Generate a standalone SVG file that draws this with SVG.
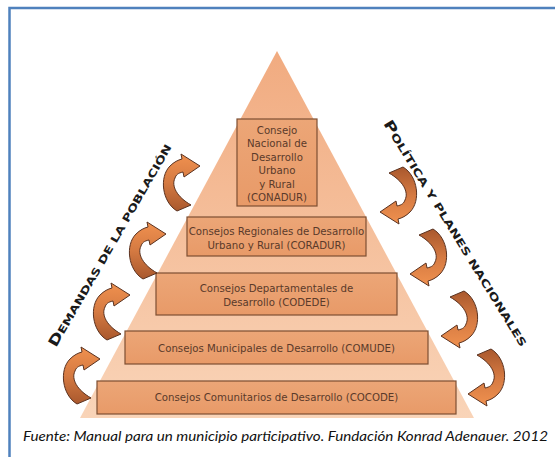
<svg xmlns="http://www.w3.org/2000/svg" xmlns:xlink="http://www.w3.org/1999/xlink" width="555" height="457" viewBox="0 0 555 457">
<style>
.box{fill:url(#boxg);stroke:#7d4f33;stroke-width:1.2}
.bt{font-family:"DejaVu Sans",Verdana,sans-serif;font-size:10.2px;fill:#5a3a2a;text-anchor:middle}
.ttl{font-family:"DejaVu Sans",sans-serif;font-weight:bold;fill:#1a1a1a}
.arr{fill:url(#arrg);stroke:#5a3220;stroke-width:1}
.foot{font-family:Lato,"Open Sans",sans-serif;font-style:italic;font-size:14px;fill:#111}
</style>
<defs>
<linearGradient id="pyr" x1="0" y1="0" x2="0" y2="1">
<stop offset="0" stop-color="#f1ab80"/>
<stop offset="1" stop-color="#f9d4b8"/>
</linearGradient>
<linearGradient id="boxg" x1="0" y1="0" x2="0" y2="1">
<stop offset="0" stop-color="#eca677"/>
<stop offset="1" stop-color="#e89a68"/>
</linearGradient>
<linearGradient id="arrg" x1="0" y1="1" x2="0" y2="0">
<stop offset="0" stop-color="#a9582d"/>
<stop offset="0.5" stop-color="#d57a42"/>
<stop offset="1" stop-color="#f0914f"/>
</linearGradient>
<path id="arr" class="arr" d="M17,56 C2,47 -1,22 10,11 C14,7 18,5 22,4 L21,-1 L40,11 L24,22 L23,17 C18,18 16,20 15,23 C11,31 17,42 31,50 Z"/>
</defs>
<rect width="555" height="457" fill="#ffffff"/>
<path d="M9.5,457 V8 H555" fill="none" stroke="#4f81bd" stroke-width="2.5"/>
<polygon id="pyramid" points="277,51 80,418 474,418" fill="url(#pyr)"/>
<g id="conadur">
<rect class="box" x="237" y="119" width="80" height="87"/>
<text class="bt" x="277" y="133.5">Consejo</text>
<text class="bt" x="277" y="147">Nacional de</text>
<text class="bt" x="277" y="160.5">Desarrollo</text>
<text class="bt" x="277" y="174">Urbano</text>
<text class="bt" x="277" y="187.5">y Rural</text>
<text class="bt" x="277" y="201">(CONADUR)</text>
</g>
<g id="coradur">
<rect class="box" x="187" y="217" width="179" height="39"/>
<text class="bt" x="276.5" y="235">Consejos Regionales de Desarrollo</text>
<text class="bt" x="276.5" y="248.5">Urbano y Rural (CORADUR)</text>
</g>
<g id="codede">
<rect class="box" x="156" y="273" width="241" height="42"/>
<text class="bt" x="276.5" y="292">Consejos Departamentales de</text>
<text class="bt" x="276.5" y="306">Desarrollo (CODEDE)</text>
</g>
<g id="comude">
<rect class="box" x="125" y="331" width="303" height="33"/>
<text class="bt" x="276.5" y="352">Consejos Municipales de Desarrollo (COMUDE)</text>
</g>
<g id="cocode">
<rect class="box" x="97" y="381" width="359" height="33"/>
<text class="bt" x="276.5" y="401">Consejos Comunitarios de Desarrollo (COCODE)</text>
</g>
<g id="connectors">
<use xlink:href="#arr" transform="translate(160,155)"/>
<use xlink:href="#arr" transform="translate(126,223)"/>
<use xlink:href="#arr" transform="translate(90,284)"/>
<use xlink:href="#arr" transform="translate(60,348)"/>
<use xlink:href="#arr" transform="translate(380,168) rotate(180 20 27.5)"/>
<use xlink:href="#arr" transform="translate(410,230) rotate(180 20 27.5)"/>
<use xlink:href="#arr" transform="translate(441,292) rotate(180 20 27.5)"/>
<use xlink:href="#arr" transform="translate(468,350) rotate(180 20 27.5)"/>
</g>
<g id="label-demandas">
<text class="ttl" transform="translate(56,348) rotate(-60)" textLength="232" lengthAdjust="spacingAndGlyphs"><tspan font-size="14">D</tspan><tspan font-size="10.3">EMANDAS DE LA POBLACIÓN</tspan></text>
</g>
<g id="label-politica">
<text class="ttl" transform="translate(383,123.5) rotate(58.4)" textLength="263" lengthAdjust="spacingAndGlyphs"><tspan font-size="14">P</tspan><tspan font-size="10.3">OLÍTICA Y PLANES NACIONALES</tspan></text>
</g>
<text class="foot" x="23" y="441" textLength="525" lengthAdjust="spacingAndGlyphs">Fuente: Manual para un municipio participativo. Fundación Konrad Adenauer. 2012</text>
</svg>
